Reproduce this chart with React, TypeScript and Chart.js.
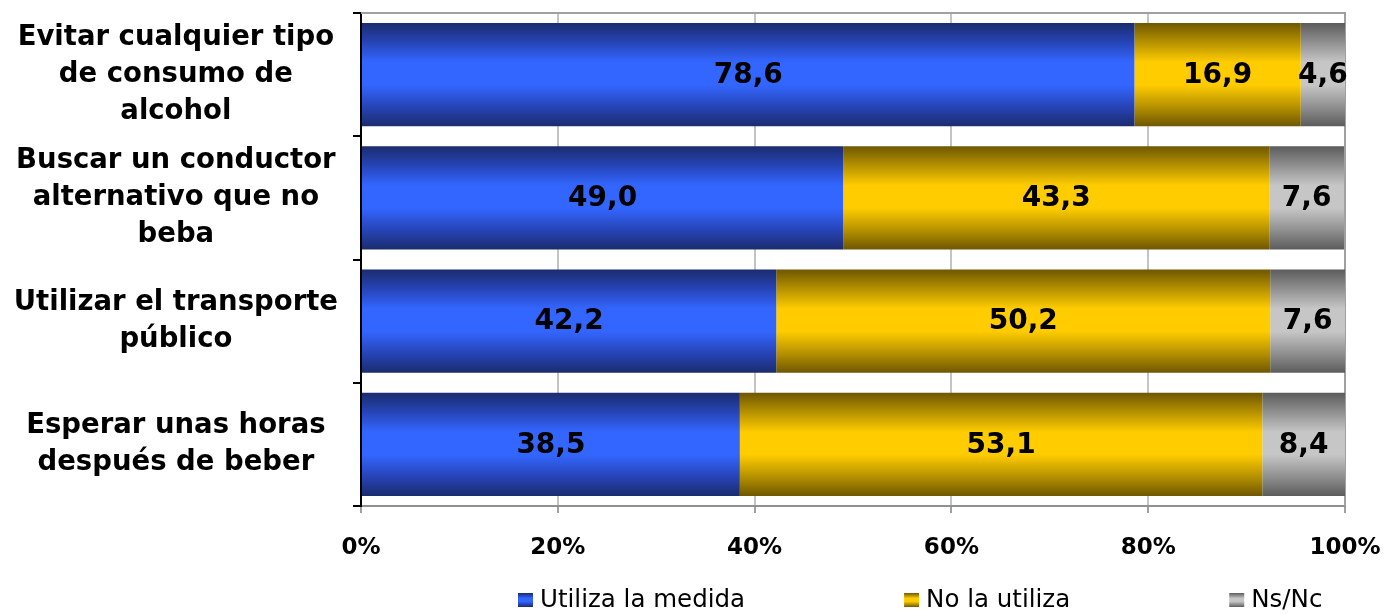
import React, { useEffect, useRef } from "react";
import { Chart, registerables } from "chart.js";

Chart.register(...registerables);

const categories: string[][] = [
  ["Evitar cualquier tipo", "de consumo de", "alcohol"],
  ["Buscar un conductor", "alternativo que no", "beba"],
  ["Utilizar el transporte", "público"],
  ["Esperar unas horas", "después de beber"],
];
const seriesNames = ["Utiliza la medida", "No la utiliza", "Ns/Nc"];
const utiliza = [78.6, 49.0, 42.2, 38.5];
const noUtiliza = [16.9, 43.3, 50.2, 53.1];
const nsnc = [4.6, 7.6, 7.6, 8.4];
const xTickStep = 20;
const xMax = 100;

// dark edge, mid, bright centre
const palettes = [
  ["#1b2c6e", "#2643b4", "#3366ff"],
  ["#705700", "#b38f00", "#ffcc00"],
  ["#5c5c5c", "#8e8e8e", "#c6c6c6"],
];

const BAR_PCT = 0.836;
const FONT = "'DejaVu Sans', Verdana, sans-serif";

function grad(ctx: CanvasRenderingContext2D, y0: number, y1: number, pal: string[]) {
  const g = ctx.createLinearGradient(0, y0, 0, y1);
  g.addColorStop(0, pal[0]);
  g.addColorStop(0.18, pal[1]);
  g.addColorStop(0.38, pal[2]);
  g.addColorStop(0.6, pal[2]);
  g.addColorStop(0.82, pal[1]);
  g.addColorStop(1, pal[0]);
  return g;
}

function fmt(v: number) {
  return v.toFixed(1).replace(".", ",");
}

export default function App() {
  const ref = useRef<HTMLCanvasElement | null>(null);

  useEffect(() => {
    if (!ref.current) return;
    const seriesData = [utiliza, noUtiliza, nsnc];

    const bg = (si: number) => (c: any) => {
      const chart = c.chart;
      const pal = palettes[si];
      if (!chart.chartArea || c.dataIndex === undefined) return pal[2];
      const ys = chart.scales.y;
      const center = ys.getPixelForValue(c.dataIndex);
      const band = (ys.bottom - ys.top) / categories.length;
      const half = (band * BAR_PCT) / 2;
      return grad(chart.ctx, center - half, center + half, pal);
    };

    const frame = {
      id: "frame",
      beforeDatasetsDraw(chart: any) {
        const { ctx, chartArea: a } = chart;
        ctx.save();
        ctx.strokeStyle = "#a0a0a0";
        ctx.lineWidth = 2;
        ctx.beginPath();
        ctx.moveTo(a.left, a.top);
        ctx.lineTo(a.right, a.top);
        ctx.lineTo(a.right, a.bottom);
        ctx.stroke();
        ctx.restore();
      },
    };

    const labels = {
      id: "valueLabels",
      afterDatasetsDraw(chart: any) {
        const { ctx, chartArea: a } = chart;
        ctx.save();
        ctx.font = `bold 28px ${FONT}`;
        ctx.fillStyle = "#000";
        ctx.textAlign = "center";
        ctx.textBaseline = "middle";
        chart.data.datasets.forEach((ds: any, i: number) => {
          const meta = chart.getDatasetMeta(i);
          meta.data.forEach((el: any, j: number) => {
            const p = el.getProps(["x", "base", "y"], true);
            const r = Math.min(p.x, a.right);
            const l = Math.max(p.base, a.left);
            ctx.fillText(fmt(ds.data[j]), (l + r) / 2, p.y + 1);
          });
        });
        ctx.restore();
      },
    };

    const legend = {
      id: "customLegend",
      afterDraw(chart: any) {
        const { ctx } = chart;
        ctx.save();
        ctx.font = `24.5px ${FONT}`;
        ctx.textBaseline = "middle";
        ctx.fillStyle = "#000";
        let x = 518;
        const yc = 600;
        const gap = 159;
        seriesNames.forEach((name, i) => {
          ctx.fillStyle = grad(ctx, yc - 7, yc + 7, palettes[i]);
          ctx.fillRect(x, yc - 7, 15, 14);
          ctx.fillStyle = "#000";
          ctx.fillText(name, x + 22, yc + 1);
          x += 22 + ctx.measureText(name).width + gap;
        });
        ctx.restore();
      },
    };

    const chart = new Chart(ref.current, {
      type: "bar",
      data: {
        labels: categories,
        datasets: seriesData.map((d, i) => ({
          label: seriesNames[i],
          data: d,
          backgroundColor: bg(i),
          borderWidth: 0,
          barPercentage: BAR_PCT,
          categoryPercentage: 1,
        })),
      },
      options: {
        indexAxis: "y",
        animation: false,
        responsive: true,
        maintainAspectRatio: false,
        layout: { padding: { top: 13, right: 39, bottom: 0, left: 0 } },
        plugins: {
          legend: { display: false },
          tooltip: { enabled: false },
        },
        scales: {
          x: {
            stacked: true,
            min: 0,
            max: xMax,
            ticks: {
              stepSize: xTickStep,
              callback: (v: any) => `${v}%`,
              color: "#000",
              font: { family: FONT, size: 23, weight: "bold" },
              padding: 21,
              maxRotation: 0,
            },
            grid: { color: "#c4c4c4", lineWidth: 2, tickLength: 7, tickColor: "#a0a0a0" },
            border: { color: "#909090", width: 2 },
            afterFit: (s: any) => {
              s.height = 614 - 506;
              s.paddingLeft = 0;
              s.paddingRight = 0;
            },
          },
          y: {
            stacked: true,
            ticks: {
              color: "#000",
              font: { family: FONT, size: 27.5, weight: "bold", lineHeight: 1.34 },
              crossAlign: "center",
              padding: 15,
            },
            grid: {
              drawOnChartArea: false,
              color: "#000",
              lineWidth: 2,
              tickLength: 8,
              offset: true,
            },
            border: { color: "#000", width: 2 },
            afterFit: (s: any) => {
              s.width = 361;
              s.paddingTop = 0;
              s.paddingBottom = 0;
            },
          },
        },
      },
      plugins: [frame, labels, legend],
    });
    return () => chart.destroy();
  }, []);

  return (
    <div style={{ position: "fixed", left: 0, top: 0, width: 1384, height: 614, background: "#fff" }}>
      <canvas ref={ref} />
    </div>
  );
}
